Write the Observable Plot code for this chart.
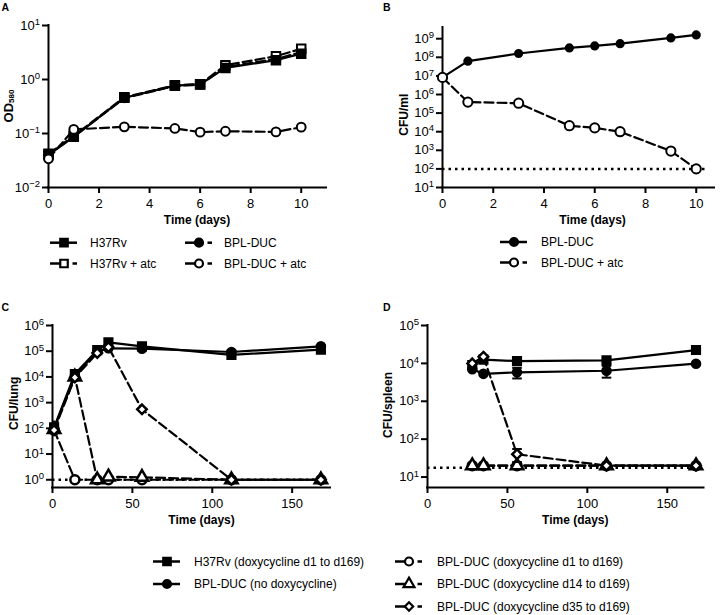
<!DOCTYPE html>
<html>
<head>
<meta charset="utf-8">
<script src="https://cdn.jsdelivr.net/npm/d3@7"></script>
<script src="https://cdn.jsdelivr.net/npm/@observablehq/plot@0.6"></script>
<style>
  html, body { margin: 0; padding: 0; background: #fff; }
  #root { position: relative; width: 721px; height: 615px; overflow: hidden; background: #fff;
          font-family: "Liberation Sans", Arial, Helvetica, sans-serif; }
</style>
</head>
<body>
<div id="root"></div>
<script>
// ---------------- DATA ----------------
// Panel A: OD580 growth curves
const daysA = [0, 1, 3, 5, 6, 7, 9, 10];
const odH37Rv      = [0.041, 0.087, 0.46, 0.77, 0.81, 1.64, 2.28, 3.0];
const odH37RvAtc   = [0.042, 0.09, 0.47, 0.78, 0.82, 1.84, 2.7, 3.7];
const odBplDuc     = [0.040, 0.088, 0.45, 0.76, 0.80, 1.70, 2.4, 3.2];
const odBplDucAtc  = [0.034, 0.119, 0.133, 0.124, 0.106, 0.110, 0.107, 0.131];
const xTicksA = [0, 2, 4, 6, 8, 10];
const yTicksA = [0.01, 0.1, 1, 10];

// Panel B: CFU/ml
const daysB = [0, 1, 3, 5, 6, 7, 9, 10];
const cfuBplDuc    = [8.3e6, 6.2e7, 1.6e8, 3.2e8, 4.1e8, 5.4e8, 1.1e9, 1.6e9];
const cfuBplDucAtc = [8.3e6, 3.9e5, 3.4e5, 2.1e4, 1.6e4, 1.0e4, 9.1e2, 1.0e2];
const limitB = 100;
const xTicksB = [0, 2, 4, 6, 8, 10];
const yTicksB = [1e1, 1e2, 1e3, 1e4, 1e5, 1e6, 1e7, 1e8, 1e9];

// Panel C: CFU/lung
const daysC = [1, 14, 28, 35, 56, 112, 168];
const lungH37Rv  = [110, 1.3e4, 1.1e5, 2.2e5, 1.55e5, 7.2e4, 1.15e5];
const lungBplDuc = [100, 1.1e4, 1.0e5, 1.3e5, 1.25e5, 9.3e4, 1.55e5];
const lungD1     = [85, 1, 1, 1, 1, 1, 1];
const lungD14    = [90, 1.0e4, 1, 1.3, 1.25, 1, 1];
const lungD35    = [85, 9.5e3, 8.5e4, 1.45e5, 550, 1, 1];
const limitC = 1;
const xTicksC = [0, 50, 100, 150];
const yTicksC = [1e0, 1e1, 1e2, 1e3, 1e4, 1e5, 1e6];

// Panel D: CFU/spleen
const daysD = [28, 35, 56, 112, 168];
const spleenH37Rv    = [9.0e3, 1.26e4, 1.15e4, 1.2e4, 2.25e4];
const spleenBplDuc   = [7.0e3, 5.3e3, 5.8e3, 6.4e3, 9.8e3];
const spleenBplDucSd = [0, 0, 1.8e3, 2.2e3, 0];
const spleenD1       = [20, 20, 20, 20, 20];
const spleenD14      = [20, 20, 20, 20, 20];
const spleenD35      = [1.0e4, 1.5e4, 40, 20, 20];
const spleenD35Sd    = [0, 0, 15, 0, 0];
const limitD = 17.5;
const xTicksD = [0, 50, 100, 150];
const yTicksD = [1e1, 1e2, 1e3, 1e4, 1e5];

// Legend labels
const legendA = ["H37Rv", "BPL-DUC", "H37Rv + atc", "BPL-DUC + atc"];
const legendB = ["BPL-DUC", "BPL-DUC + atc"];
const legendCD = ["H37Rv (doxycycline d1 to d169)", "BPL-DUC (no doxycycline)",
                  "BPL-DUC (doxycycline d1 to d169)", "BPL-DUC (doxycycline d14 to d169)",
                  "BPL-DUC (doxycycline d35 to d169)"];

// ---------------- HELPERS ----------------
const FONT = '"Liberation Sans", Arial, Helvetica, sans-serif';
const root = document.getElementById("root");
const pts = (xs, ys, sd) => xs.map((x, i) => ({x, y: ys[i], sd: sd ? sd[i] : 0}));

const ST = {
  sqF:  {symbol: "square",   filled: true,  dashed: false},
  sqO:  {symbol: "square",   filled: false, dashed: true},
  ciF:  {symbol: "circle",   filled: true,  dashed: false},
  ciFd: {symbol: "circle",   filled: true,  dashed: true},
  ciO:  {symbol: "circle",   filled: false, dashed: true},
  trO:  {symbol: "triangle", filled: false, dashed: true},
  diO:  {symbol: "diamond2", filled: false, dashed: true}
};

function supFormat(d) {
  const e = Math.round(Math.log10(d));
  return "10^" + (e < 0 ? "\u2212" + (-e) : String(e));
}

function buildPanel(cfg) {
  const marks = [
    Plot.ruleX([cfg.xDomain[0]], {stroke: "black", strokeWidth: 2, strokeLinecap: "square"}),
    Plot.ruleY([cfg.yDomain[0]], {stroke: "black", strokeWidth: 2, strokeLinecap: "square"}),
    Plot.axisX({ticks: cfg.xTicks, tickSize: 6, tickPadding: 5, strokeWidth: 2, color: "black",
                label: null, tickFormat: d => String(d)}),
    Plot.axisY({ticks: cfg.yTicks, tickSize: 6, tickPadding: 2.5, strokeWidth: 2, color: "black",
                label: null, tickFormat: supFormat})
  ];
  if (cfg.limit) {
    marks.push(Plot.ruleY([cfg.limit.value], {x1: cfg.limit.x1, x2: cfg.limit.x2, stroke: "black",
      strokeWidth: 2.5, strokeDasharray: "2.5,4"}));
  }
  for (const s of cfg.series) {
    marks.push(Plot.line(s.data, {x: "x", y: "y", stroke: "black", strokeWidth: 2.2,
      strokeDasharray: s.style.dashed ? "9,4" : null}));
    const err = s.data.filter(d => d.sd > 0);
    if (err.length) {
      marks.push(Plot.ruleX(err, {x: "x", y1: d => d.y - d.sd, y2: d => d.y + d.sd, stroke: "black", strokeWidth: 2}));
      marks.push(Plot.link(err, {x1: d => d.x - 3, x2: d => d.x + 3, y1: d => d.y - d.sd, y2: d => d.y - d.sd, stroke: "black", strokeWidth: 2}));
      marks.push(Plot.link(err, {x1: d => d.x - 3, x2: d => d.x + 3, y1: d => d.y + d.sd, y2: d => d.y + d.sd, stroke: "black", strokeWidth: 2}));
    }
    marks.push(Plot.dot(s.data, {x: "x", y: "y", symbol: s.style.symbol, r: s.r,
      fill: s.style.filled ? "black" : "white", stroke: "black", strokeWidth: s.sw || 2}));
  }
  const svg = Plot.plot({
    width: 361, height: 240,
    marginLeft: cfg.frame.l, marginRight: 361 - cfg.frame.r,
    marginTop: cfg.frame.t, marginBottom: 240 - cfg.frame.b,
    x: {type: "linear", domain: cfg.xDomain},
    y: {type: "log", domain: cfg.yDomain},
    style: {fontFamily: FONT, fontSize: "13px", background: "transparent", overflow: "visible", color: "black"},
    marks
  });
  svg.style.position = "absolute";
  svg.style.left = cfg.left + "px";
  svg.style.top = cfg.top + "px";
  // superscript exponents on the log tick labels
  svg.querySelectorAll("text").forEach(t => {
    const m = /^10\^(.+)$/.exec(t.textContent);
    if (m) {
      t.textContent = "10";
      const ts = document.createElementNS("http://www.w3.org/2000/svg", "tspan");
      ts.setAttribute("dy", "-4.5");
      ts.setAttribute("font-size", "9.5");
      ts.textContent = m[1];
      t.appendChild(ts);
    }
  });
  root.appendChild(svg);
}

// ---------------- PANELS ----------------
buildPanel({
  left: 0, top: 0, frame: {l: 48, r: 326, t: 25, b: 187},
  xDomain: [0, 11], yDomain: [0.01, 10], xTicks: xTicksA, yTicks: yTicksA,
  series: [
    {data: pts(daysA, odBplDuc), style: ST.ciFd, r: 4},
    {data: pts(daysA, odH37RvAtc), style: ST.sqO, r: 4.8},
    {data: pts(daysA, odH37Rv), style: ST.sqF, r: 4.8},
    {data: pts(daysA, odBplDucAtc), style: ST.ciO, r: 4.4}
  ]
});

buildPanel({
  left: 360, top: 0, frame: {l: 82, r: 354, t: 27, b: 187},
  xDomain: [0, 10.72], yDomain: [10, 4e9], xTicks: xTicksB, yTicks: yTicksB,
  limit: {value: limitB, x1: 0, x2: 10.35},
  series: [
    {data: pts(daysB, cfuBplDuc), style: ST.ciF, r: 3.6},
    {data: pts(daysB, cfuBplDucAtc), style: ST.ciO, r: 4.6}
  ]
});

buildPanel({
  left: 0, top: 300, frame: {l: 52, r: 330, t: 25, b: 187},
  xDomain: [0, 174], yDomain: [0.5, 1e6], xTicks: xTicksC, yTicks: yTicksC,
  limit: {value: limitC, x1: 0, x2: 170},
  series: [
    {data: pts(daysC, lungH37Rv), style: ST.sqF, r: 4.6},
    {data: pts(daysC, lungBplDuc), style: ST.ciF, r: 4.3},
    {data: pts(daysC, lungD1), style: ST.ciO, r: 4.5, sw: 2.5},
    {data: pts(daysC, lungD14), style: ST.trO, r: 4.6, sw: 2.5},
    {data: pts(daysC, lungD35), style: ST.diO, r: 4.3, sw: 2.5}
  ]
});

buildPanel({
  left: 360, top: 300, frame: {l: 67, r: 343.5, t: 25, b: 187},
  xDomain: [0, 173], yDomain: [5.3, 1e5], xTicks: xTicksD, yTicks: yTicksD,
  limit: {value: limitD, x1: 0, x2: 171},
  series: [
    {data: pts(daysD, spleenH37Rv), style: ST.sqF, r: 4.6},
    {data: pts(daysD, spleenBplDuc, spleenBplDucSd), style: ST.ciF, r: 4.3},
    {data: pts(daysD, spleenD1), style: ST.ciO, r: 4.5, sw: 2.5},
    {data: pts(daysD, spleenD14), style: ST.trO, r: 4.6, sw: 2.5},
    {data: pts(daysD, spleenD35, spleenD35Sd), style: ST.diO, r: 4.3, sw: 2.5}
  ]
});

// ---------------- OVERLAY: titles, letters, legends ----------------
const ov = d3.select(root).append("svg")
  .attr("width", 721).attr("height", 615)
  .style("position", "absolute").style("left", "0px").style("top", "0px")
  .style("font-family", FONT).attr("fill", "black");

// panel letters
[["A", 1.5, 10.7], ["B", 383, 10.7], ["C", 1.5, 310.7], ["D", 383, 310.7]].forEach(([t, x, y]) =>
  ov.append("text").attr("x", x).attr("y", y).attr("font-size", 10.5).attr("font-weight", "bold").text(t));

// x axis titles
[[197, 223.5], [592.6, 223.5], [201.5, 523.5], [575.3, 523.5]].forEach(([x, y]) =>
  ov.append("text").attr("x", x).attr("y", y).attr("text-anchor", "middle")
    .attr("font-size", 12).attr("font-weight", "bold").text("Time (days)"));

// y axis titles
const odLab = ov.append("text").attr("transform", "translate(12.7,106) rotate(-90)")
  .attr("text-anchor", "middle").attr("font-size", 13).attr("font-weight", "bold");
odLab.append("tspan").text("OD");
odLab.append("tspan").attr("font-size", 8).attr("dy", 1.5).text("580");
[["CFU/ml", 408.3, 114.7], ["CFU/lung", 18.3, 403.3], ["CFU/spleen", 392, 405]].forEach(([t, x, y]) =>
  ov.append("text").attr("transform", `translate(${x},${y}) rotate(-90)`)
    .attr("text-anchor", "middle").attr("font-size", 12).attr("font-weight", "bold").text(t));

const symType = {square: d3.symbolSquare, circle: d3.symbolCircle, triangle: d3.symbolTriangle, diamond2: d3.symbolDiamond2};
const symSize = {square: 56, circle: 50, triangle: 52, diamond2: 44};
function legendItem(x0, y, style, label, textX) {
  const cx = x0 + 14;
  ov.append("line").attr("x1", x0).attr("x2", cx).attr("y1", y).attr("y2", y)
    .attr("stroke", "black").attr("stroke-width", 2.5);
  if (style.dashed) {
    ov.append("line").attr("x1", x0 + 22.5).attr("x2", x0 + 27).attr("y1", y).attr("y2", y)
      .attr("stroke", "black").attr("stroke-width", 2.5);
  } else {
    ov.append("line").attr("x1", cx).attr("x2", x0 + 27).attr("y1", y).attr("y2", y)
      .attr("stroke", "black").attr("stroke-width", 2.5);
  }
  ov.append("path").attr("d", d3.symbol(symType[style.symbol], symSize[style.symbol])())
    .attr("transform", `translate(${cx},${y})`)
    .attr("fill", style.filled ? "black" : "white").attr("stroke", "black").attr("stroke-width", 2.2);
  ov.append("text").attr("x", textX).attr("y", y + 4.3).attr("font-size", 12).text(label);
}

// Legend A
legendItem(50, 242.7, ST.sqF, legendA[0], 90);
legendItem(185, 242.7, ST.ciFd, legendA[1], 224);
legendItem(50, 263.5, ST.sqO, legendA[2], 90);
legendItem(185, 263.5, ST.ciO, legendA[3], 224);
// Legend B
legendItem(500, 242, ST.ciF, legendB[0], 541);
legendItem(500, 262.5, ST.ciO, legendB[1], 541);
// Legend C/D
legendItem(153, 561.5, ST.sqF, legendCD[0], 194);
legendItem(153, 584, ST.ciF, legendCD[1], 194);
legendItem(395, 561.5, ST.ciO, legendCD[2], 437);
legendItem(395, 584, ST.trO, legendCD[3], 437);
legendItem(395, 606.5, ST.diO, legendCD[4], 437);
</script>
</body>
</html>
